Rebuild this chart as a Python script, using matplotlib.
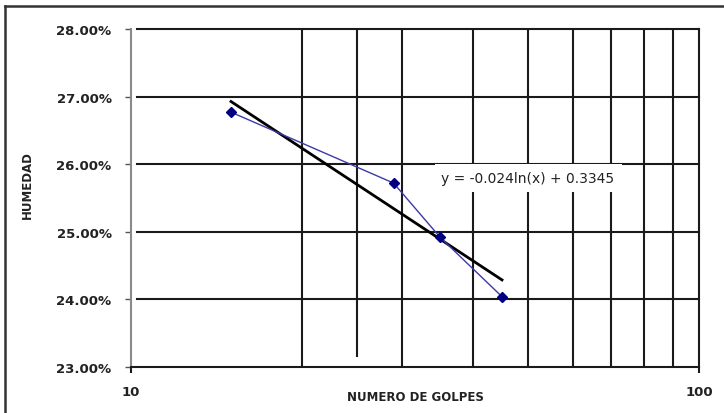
import numpy as np
import matplotlib
matplotlib.use('Agg')
import matplotlib.pyplot as plt
from matplotlib.ticker import PercentFormatter, FixedLocator, FuncFormatter, NullFormatter
from matplotlib.lines import Line2D

# ── Data ──────────────────────────────────────────────────────────
golpes  = [15, 29, 35, 45]
humedad = [0.2677, 0.2572, 0.2492, 0.2404]
y_ticks = [0.23, 0.24, 0.25, 0.26, 0.27, 0.28]
x_major = [10, 100]
x_minor = [20, 30, 40, 50, 60, 70, 80, 90]
equation = 'y = -0.024ln(x) + 0.3345'

# logarithmic trend line fitted on the points
coef = np.polyfit(np.log(golpes), humedad, 1)
x_fit = np.linspace(min(golpes), max(golpes), 60)
y_fit = coef[0] * np.log(x_fit) + coef[1]

GRID = '#1a1a1a'
TXT = '#222222'

fig = plt.figure(figsize=(7.24, 4.14), dpi=100)
fig.patch.set_facecolor('white')
ax = fig.add_axes([131/724, 46/414, 568/724, 338/414])

ax.set_xscale('log')
ax.set_xlim(10, 100)
ax.set_ylim(0.23, 0.28)

# grid
ax.xaxis.set_major_locator(FixedLocator(x_major))
ax.xaxis.set_minor_locator(FixedLocator(x_minor))
ax.xaxis.set_major_formatter(FuncFormatter(lambda v, p: f'{v:g}'))
ax.xaxis.set_minor_formatter(NullFormatter())
ax.grid(True, which='minor', axis='x', color=GRID, linewidth=1.5, zorder=1)
off = 6 / 568
for yv in y_ticks[1:]:
    ax.axhline(yv, xmin=off, xmax=1, color=GRID, linewidth=1.5,
               clip_on=False, zorder=1)
# odd stray vertical line in the original
ax.axvline(25, ymin=0.033, ymax=1, color=GRID, linewidth=1.5, zorder=1)

ax.set_yticks(y_ticks)
ax.yaxis.set_major_formatter(PercentFormatter(xmax=1, decimals=2))

for s in ['top']:
    ax.spines[s].set_visible(False)
ax.spines['left'].set_color('#8a8a8a')
ax.spines['left'].set_linewidth(1.5)
ax.spines['bottom'].set_color(GRID)
ax.spines['bottom'].set_linewidth(1.5)
ax.spines['right'].set_color(GRID)
ax.spines['right'].set_linewidth(1.5)

ax.tick_params(axis='y', which='major', direction='out', length=4,
               width=1.0, color='#555555', pad=10, labelsize=9.5,
               labelcolor=TXT)
ax.tick_params(axis='x', which='major', direction='out', length=4,
               width=1.5, color=GRID, pad=9, labelsize=9.5, labelcolor=TXT)
ax.tick_params(axis='x', which='minor', length=0)
for lab in ax.get_yticklabels() + ax.get_xticklabels():
    lab.set_fontweight('bold')

# series
ax.plot(golpes, humedad, color='#3a3aa8', linewidth=1.0,
        marker='D', markersize=5.5, markerfacecolor='#000080',
        markeredgecolor='#000080', zorder=4)
ax.plot(x_fit, y_fit, color='black', linewidth=2.0, zorder=3)

ax.text(50, 0.2580, equation, ha='center', va='center', fontsize=10,
        color=TXT, zorder=5,
        bbox=dict(facecolor='white', edgecolor='none', pad=5))

fig.text(27/724, 1 - 185/414, 'HUMEDAD', rotation=90, ha='center',
         va='center', fontsize=8.5, fontweight='bold', color=TXT)
fig.text(415/724, 1 - 398/414, 'NUMERO DE GOLPES', ha='center',
         va='center', fontsize=8.5, fontweight='bold', color=TXT)

# outer chart frame (top and left edges visible)
fig.add_artist(Line2D([5/724, 5/724], [0, 1 - 7/414], transform=fig.transFigure,
                      color='#333333', linewidth=1.8))
fig.add_artist(Line2D([5/724, 1], [1 - 7/414, 1 - 7/414], transform=fig.transFigure,
                      color='#333333', linewidth=1.8))

plt.savefig('out.png', dpi=100, facecolor='white')
plt.close()
